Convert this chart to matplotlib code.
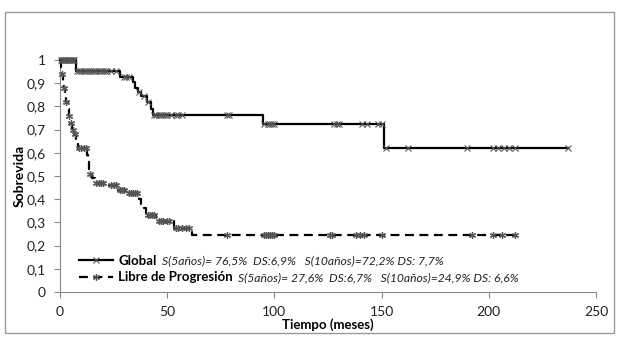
import numpy as np
import matplotlib
matplotlib.use('Agg')
import matplotlib.pyplot as plt
from matplotlib.lines import Line2D
from matplotlib.patches import Rectangle

plt.rcParams['font.family'] = ['Lato', 'DejaVu Sans']

# -------------------------
# Supervivencia global (Kaplan-Meier, escalones)
t_global = [0, 7.5, 28, 34, 35, 36.5, 38, 40.5, 42.5, 43.5, 94.5, 151, 237]
s_global = [1, 0.953, 0.928, 0.905, 0.88, 0.86, 0.845, 0.82, 0.79, 0.765, 0.722, 0.62, 0.62]
cens_global = [0.5, 1, 1.5, 2, 2.5, 3, 3.5, 4, 4.5, 5, 5.5, 6, 6.5,
               8, 9, 10, 11, 12, 13, 14, 15, 16, 17, 18, 19, 20, 21, 22, 24, 26,
               30, 31, 32, 37, 39, 41, 44, 45, 46, 47, 48, 49, 50, 52, 54, 55, 57,
               78, 79, 95, 97, 98, 99, 100, 128, 129, 130, 141, 143, 148.5, 150,
               152, 162.5, 190, 202, 204.5, 207, 209.5, 212, 237]

# Supervivencia libre de progresión
t_lp = [0, 0.5, 1.0, 1.5, 2.0, 2.5, 3.0, 3.5, 4.0, 4.5, 5.5, 6.5, 7.5, 8.5,
        12.5, 13.0, 13.5, 14.0, 15.0, 16.5, 23.0, 27.0, 31.0, 37.0, 38.0, 39.0,
        40.0, 45.0, 53.0, 61.5, 212]
s_lp = [1, 0.97, 0.94, 0.91, 0.88, 0.85, 0.82, 0.79, 0.76, 0.73, 0.70, 0.68, 0.66, 0.62,
        0.59, 0.56, 0.53, 0.51, 0.49, 0.47, 0.46, 0.44, 0.425, 0.40, 0.38, 0.36,
        0.33, 0.305, 0.275, 0.247, 0.247]
cens_lp = [1, 2, 3, 4, 5, 6, 7, 9, 10, 11, 12, 14, 17, 18, 19, 20, 24, 25, 26, 28, 29,
           30, 32, 33, 34, 35, 36, 41, 42, 43, 44, 46, 47, 48, 50, 51, 54, 55, 57, 59, 60,
           78, 95, 96, 97, 98, 99, 100, 126, 127, 138, 140, 142, 150, 192, 202, 206, 212]

labels = ['Global', 'Libre de Progresión']
info = ['S(5años)= 76,5%  DS:6,9%   S(10años)=72,2% DS: 7,7%',
        'S(5años)= 27,6%  DS:6,7%   S(10años)=24,9% DS: 6,6%']

xticks = [0, 50, 100, 150, 200, 250]
yticks = np.round(np.arange(0, 1.01, 0.1), 1)


def step_value(t, tt, ss):
    idx = np.searchsorted(tt, t, side='right') - 1
    return np.array(ss)[idx]


# -------------------------
W, H = 620, 341
fig = plt.figure(figsize=(W / 100, H / 100), dpi=100)
ax = fig.add_axes([60 / W, (H - 292) / H, (596 - 60) / W, (292 - 60) / H])

marker_col = '#555555'
ax.step(t_global, s_global, where='post', color='black', lw=1.6, clip_on=False, zorder=3)
ax.plot(cens_global, step_value(cens_global, t_global, s_global), ls='none',
        marker='x', ms=4, mew=0.8, color=marker_col, clip_on=False, zorder=4)

ax.step(t_lp, s_lp, where='post', color='black', lw=1.6, dashes=(4, 2.5),
        clip_on=False, zorder=3)
ax.plot(cens_lp, step_value(cens_lp, t_lp, s_lp), ls='none',
        marker=(6, 2, 0), ms=5, mew=0.9, color=marker_col, clip_on=False, zorder=4)

ax.set_xlim(0, 250)
ax.set_ylim(0, 1)
ax.set_xticks(xticks)
ax.set_yticks(yticks)
ax.set_yticklabels([('%g' % v).replace('.', ',') for v in yticks])
ax.tick_params(axis='both', direction='out', length=4, width=0.8, color='#888888',
               labelsize=10, labelcolor='#222222', pad=6)
for side in ['top', 'right']:
    ax.spines[side].set_visible(False)
for side in ['left', 'bottom']:
    ax.spines[side].set_color('#888888')
    ax.spines[side].set_linewidth(0.8)

fig.text(20 / W, 1 - 176 / H, 'Sobrevida', rotation=90, ha='center', va='center',
         fontsize=10, fontweight='bold')
fig.text(328 / W, 1 - 325 / H, 'Tiempo (meses)', ha='center', va='center',
         fontsize=9.5, fontweight='bold')

# leyenda
handles = [Line2D([], [], color='black', lw=1.6, marker='x', ms=4, mew=0.8,
                  markeredgecolor=marker_col),
           Line2D([], [], color='black', lw=1.6, dashes=(4, 2.5), marker=(6, 2, 0),
                  ms=5, mew=0.9, markeredgecolor=marker_col)]
leg = ax.legend(handles, labels, loc='center left', frameon=False,
                bbox_to_anchor=(12 / 536, (292 - 269) / 232),
                prop={'size': 9.5, 'weight': 'bold'}, handlelength=2.6,
                handletextpad=0.4, labelspacing=0.35, borderpad=0)

fig.canvas.draw()
for txt, s in zip(leg.get_texts(), info):
    bb = txt.get_window_extent()
    fig.text((bb.x1 + 5) / W, (bb.y0 + bb.y1) / 2 / H, s, ha='left', va='center',
             fontsize=8.7, style='italic', color='#222222')

fig.add_artist(Rectangle((5 / W, 1 - 333 / H), 609 / W, 321 / H, transform=fig.transFigure,
                         fill=False, edgecolor='#999999', lw=1))

fig.savefig('out.png', dpi=100)
